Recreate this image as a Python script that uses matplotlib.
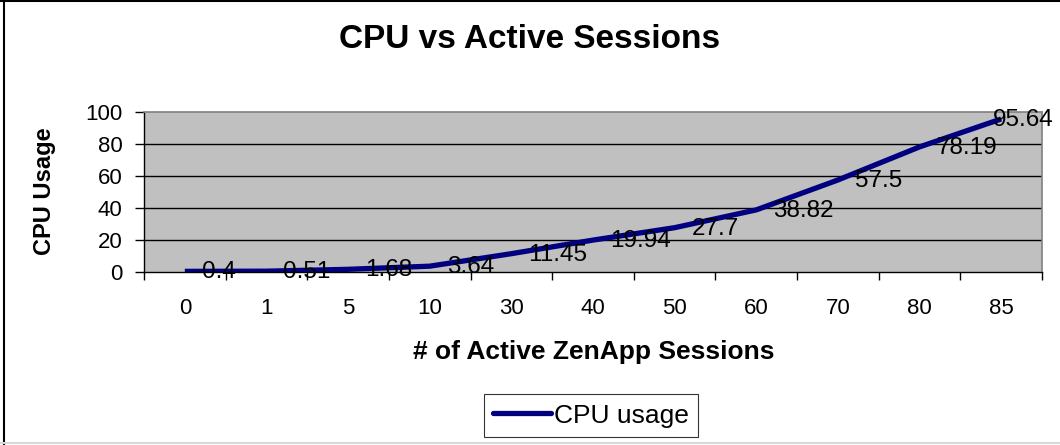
import matplotlib
matplotlib.use("Agg")
import matplotlib.pyplot as plt
from matplotlib.lines import Line2D

plt.rcParams['font.family'] = ['Liberation Sans', 'DejaVu Sans']

categories = ['0', '1', '5', '10', '30', '40', '50', '60', '70', '80', '85']
cpu_usage = [0.4, 0.51, 1.68, 3.64, 11.45, 19.94, 27.7, 38.82, 57.5, 78.19, 95.64]
value_labels = ['0.4', '0.51', '1.68', '3.64', '11.45', '19.94', '27.7', '38.82', '57.5', '78.19', '95.64']
y_ticks = [0, 20, 40, 60, 80, 100]

W, H, DPI = 1060, 445, 100
fig = plt.figure(figsize=(W / DPI, H / DPI), dpi=DPI)
fig.patch.set_facecolor('white')

L, R, T, B = 144, 1042, 112, 272
ax = fig.add_axes([L / W, 1 - B / H, (R - L) / W, (B - T) / H])
ax.set_facecolor('#C0C0C0')

x = list(range(len(categories)))
line, = ax.plot(x, cpu_usage, color='#000080', lw=3.8, solid_joinstyle='round',
                solid_capstyle='butt', label='CPU usage', zorder=3)

ax.set_xlim(-0.5, len(categories) - 0.5)
ax.set_ylim(0, 100)
ax.set_yticks(y_ticks)
ax.set_yticklabels([str(v) for v in y_ticks], fontsize=16)
ax.set_xticks(x)
ax.set_xticklabels(categories, fontsize=16)
ax.set_xticks([i - 0.5 for i in range(len(categories) + 1)], minor=True)
ax.tick_params(axis='x', which='major', length=0, pad=18.5)
ax.tick_params(axis='x', which='minor', length=6, width=1, color='black', direction='out')
ax.tick_params(axis='y', which='major', length=6.5, width=1, color='black', direction='out', pad=9)

for yv in y_ticks[1:-1]:
    ax.axhline(yv, color='black', lw=1.0, zorder=1)

for s in ['top', 'right']:
    ax.spines[s].set_color('#808080')
    ax.spines[s].set_linewidth(1.2)
for s in ['left', 'bottom']:
    ax.spines[s].set_color('black')
    ax.spines[s].set_linewidth(1.0)
ax.spines['bottom'].set_zorder(4)

for i, (v, lab) in enumerate(zip(cpu_usage, value_labels)):
    dx = 17 if i < len(cpu_usage) - 1 else -8
    ax.annotate(lab, (i, v), xytext=(dx, -1), textcoords='offset pixels',
                ha='left', va='center', fontsize=17.5, color='black', zorder=5,
                annotation_clip=False)

fig.text(0.5, 1 - 40 / H, 'CPU vs Active Sessions', ha='center', va='center',
         fontsize=24, fontweight='bold')
fig.text(45 / W, 1 - 191 / H, 'CPU Usage', rotation=90, ha='center', va='center',
         fontsize=17, fontweight='bold')
fig.text(594 / W, 1 - 352 / H, '# of Active ZenApp Sessions', ha='center', va='center',
         fontsize=19, fontweight='bold')

leg = fig.legend(handles=[Line2D([0], [0], color='#000080', lw=3.8, solid_capstyle='round')],
                 labels=['CPU usage'],
                 loc='center', bbox_to_anchor=(591 / W, 1 - 415.5 / H), fontsize=19,
                 frameon=True, fancybox=False, edgecolor='black', handlelength=2.2,
                 handletextpad=0.1, borderpad=0.35, borderaxespad=0)
leg.get_frame().set_linewidth(0.8)

# chart-area border
fig.add_artist(Line2D([0, 1], [1 - 1 / H, 1 - 1 / H], transform=fig.transFigure, color='black', lw=1.5))
fig.add_artist(Line2D([3.5 / W, 3.5 / W], [0, 1], transform=fig.transFigure, color='black', lw=1.5))
fig.add_artist(Line2D([0, 1], [1 - 443 / H, 1 - 443 / H], transform=fig.transFigure, color='#D8D8D8', lw=1.5))

fig.savefig('out.png', dpi=DPI)
